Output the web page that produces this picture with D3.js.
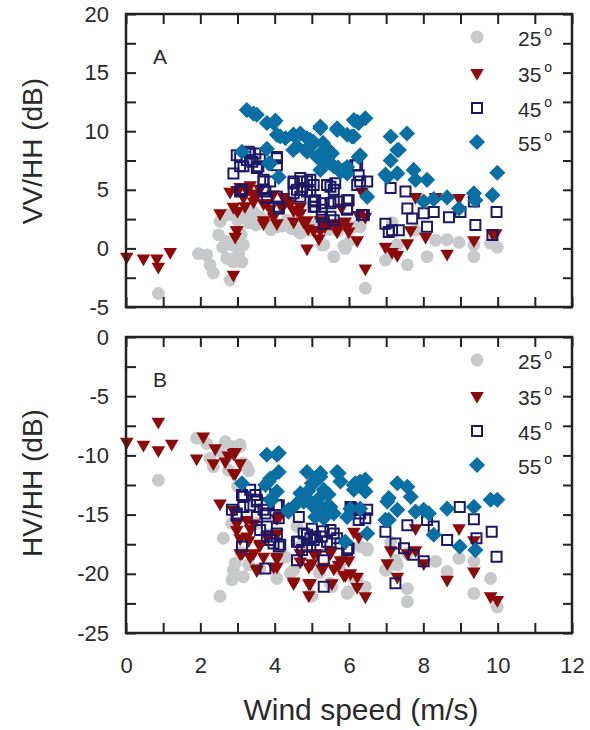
<!DOCTYPE html>
<html>
<head>
<meta charset="utf-8">
<script src="https://cdn.jsdelivr.net/npm/d3@7"></script>
<style>
  body { margin: 0; background: #fff; }
  text { font-family: "Liberation Sans", Arial, sans-serif; fill: #2a2a2a; }
</style>
</head>
<body>
<div id="chart"></div>
<script>
// angles in the legend
const angles = ['25', '35', '45', '55'];
const xTicks = [0, 2, 4, 6, 8, 10, 12];

// panel A: VV/HH (dB) vs wind speed (m/s)
const vvhh25 = [[0.87,-3.85],[1.95,-0.45],[2.17,-0.55],[2.26,-1.4],[2.35,-2.1],[2.49,1.15],[2.53,2.3],[2.71,0.6],
  [2.71,-0.85],[2.8,-2.7],[2.89,-1.15],[3.03,-0.45],[3.12,-1.15],[3.16,0.3],[2.71,2.85],[2.94,2.85],[3.25,3.0],
  [3.43,3.1],[3.61,2.7],[3.79,2.3],[4.06,1.85],[4.33,2.4],[4.6,1.55],[4.96,1.55],[5.32,0.3],[5.59,-0.7],[5.9,0.0],
  [6.04,0.7],[6.3,2.3],[6.44,-3.4],[6.98,-1.0],[7.16,-0.15],[4.69,1.3],[5.27,0.3],[5.86,0.2],[6.3,1.85],[7.3,0.3],
  [7.57,-1.4],[7.79,1.55],[8.1,-0.7],[8.33,0.7],[8.64,0.75],[8.96,0.5],[9.36,-0.7],[9.36,0.3],[9.81,0.45],
  [9.99,0.1],[7.16,2.2],[3.0,2.4],[3.3,2.2],[3.9,1.6],[4.2,1.9],[4.45,1.7],[5.1,1.9],[5.45,1.6],[5.7,1.5],
  [6.1,1.8],[2.6,0.1],[3.1,1.2],[3.5,2.0],[4.8,2.1],[5.2,2.4],[5.6,2.0],[2.85,0.3],[3.0,-0.6]];
const vvhh35 = [[0.02,-0.7],[0.47,-0.85],[0.83,-0.85],[0.87,-1.55],[1.19,-0.3],[2.53,3.0],[2.8,4.85],[2.89,3.55],
  [3.07,5.25],[3.16,4.4],[2.98,1.55],[2.94,1.0],[2.89,-2.25],[3.34,5.4],[3.52,4.7],[3.43,4.0],[3.7,3.85],[3.88,3.4],
  [3.7,2.4],[4.06,2.15],[4.33,4.1],[4.51,3.25],[4.69,3.0],[4.51,2.3],[4.78,2.3],[5.05,1.55],[5.19,0.85],[4.87,0.0],
  [5.5,2.15],[5.68,1.45],[5.9,2.3],[5.99,1.45],[6.22,0.7],[6.26,2.85],[6.44,-1.7],[6.98,0.15],[7.16,-0.3],
  [7.3,-0.55],[5.23,2.4],[5.68,1.85],[6.44,2.7],[6.35,4.85],[7.57,0.45],[7.66,1.55],[7.79,4.4],[8.06,1.0],
  [8.33,4.4],[8.64,-0.45],[8.96,4.3],[9.36,0.7],[9.86,1.3],[4.69,3.55],[3.2,3.6],[3.6,5.1],[3.95,4.6],[4.2,3.5],
  [4.9,1.7],[5.35,1.9],[5.8,3.5],[9.95,1.3],[2.98,5.0],[3.43,4.55],[3.79,3.85],[4.24,4.4],[4.42,3.85],[4.6,3.3],
  [3.97,2.7],[3.7,2.15],[4.87,2.4],[5.77,2.15],[2.98,1.55],[5.23,1.55],[5.95,1.85],[3.25,5.0],[3.0,3.2]];
const vvhh45 = [[3.07,7.8],[3.3,8.25],[3.48,8.1],[3.25,7.55],[3.07,7.0],[2.89,6.4],[3.56,7.0],[4.06,7.7],[4.06,7.1],
  [3.7,5.85],[3.88,5.7],[3.75,4.85],[3.79,4.3],[4.06,4.4],[4.11,3.55],[3.12,5.0],[4.51,5.55],[4.69,6.0],[4.87,5.7],
  [5.05,5.4],[4.74,5.0],[4.96,4.85],[4.51,4.7],[4.69,4.4],[5.09,4.1],[5.05,3.55],[5.27,3.85],[5.5,3.85],[5.72,4.0],
  [5.95,4.1],[5.95,3.4],[5.41,5.4],[5.27,2.7],[5.32,2.1],[5.59,2.4],[6.22,7.1],[6.3,5.7],[6.49,5.7],[6.22,5.4],
  [6.4,2.85],[6.98,2.1],[7.16,1.55],[7.12,5.15],[6.17,7.1],[6.26,6.25],[5.63,5.55],[5.5,5.25],[5.59,4.0],
  [7.52,4.85],[7.57,3.4],[7.7,2.55],[8.01,3.0],[8.28,3.1],[8.1,1.85],[8.69,2.65],[9.0,3.1],[9.36,4.0],[9.4,2.0],
  [9.97,3.1],[9.86,1.15],[7.07,1.4],[7.34,1.55],[6.35,2.85],[2.98,7.95],[3.34,8.1],[3.16,7.0],[3.52,6.85],
  [4.06,7.8],[3.7,5.7],[3.7,5.0],[4.11,3.4],[4.51,5.7],[4.74,5.7],[4.96,5.85],[4.6,5.0],[4.87,4.85],[5.05,4.0],
  [5.27,3.3],[5.5,2.7],[5.59,5.0],[5.99,4.1],[5.95,3.3],[5.09,3.55],[3.07,4.85],[3.4,7.4],[3.6,7.6]];
const vvhh55 = [[3.25,11.8],[3.52,11.4],[3.79,10.7],[4.02,10.9],[4.06,9.7],[4.29,9.4],[4.5,9.7],[4.69,9.8],
  [4.87,9.4],[5.04,9.1],[5.23,10.25],[5.68,10.25],[5.95,9.7],[6.22,10.8],[6.44,11.1],[4.5,8.4],[3.79,8.5],
  [3.12,8.25],[3.84,7.25],[4.11,6.1],[4.87,8.25],[5.23,8.1],[5.41,7.5],[5.5,8.25],[5.59,7.0],[5.77,6.55],
  [5.95,6.4],[6.13,9.55],[6.26,7.8],[6.49,4.4],[7.03,6.1],[7.12,9.55],[7.12,7.5],[7.3,8.4],[6.08,9.55],[6.26,10.7],
  [5.54,8.1],[6.3,7.95],[7.56,9.8],[7.34,8.4],[6.98,6.3],[7.3,6.4],[7.74,6.7],[7.79,5.85],[8.1,5.85],[8.01,4.0],
  [8.28,4.2],[8.64,4.35],[8.96,3.4],[9.36,4.7],[9.4,4.1],[9.86,4.55],[9.99,6.45],[5.23,6.7],[5.35,7.3],[5.7,6.9],
  [3.43,11.5],[3.97,10.7],[4.15,9.55],[4.51,9.7],[4.6,8.7],[4.96,9.25],[5.23,10.4],[5.68,10.1],[5.41,8.4],
  [5.14,7.8],[5.5,7.25],[5.86,6.7],[6.13,10.95],[5.95,6.95],[3.88,7.25],[4.83,8.4],[5.0,8.8],[5.3,9.0]];

// panel B: HV/HH (dB) vs wind speed (m/s)
const hvhh25 = [[0.87,-12.1],[1.9,-8.55],[2.17,-9.0],[2.26,-10.25],[2.35,-10.95],[2.67,-8.85],[2.85,-9.25],
  [3.07,-9.1],[3.16,-10.65],[2.76,-11.25],[2.62,-17.0],[2.85,-15.75],[2.94,-19.1],[2.85,-20.5],[3.16,-20.25],
  [2.53,-21.9],[3.3,-19.25],[3.52,-15.75],[3.84,-16.7],[4.06,-20.4],[4.51,-19.7],[4.69,-17.7],[4.96,-21.8],
  [5.5,-20.8],[5.95,-21.65],[6.49,-18.0],[6.44,-21.1],[7.03,-19.55],[7.25,-18.85],[4.6,-16.0],[5.0,-21.9],
  [5.54,-21.1],[5.99,-21.5],[6.49,-17.85],[6.98,-19.7],[7.3,-19.25],[7.57,-21.25],[7.57,-22.35],[7.57,-18.25],
  [8.33,-18.95],[8.64,-19.8],[8.96,-18.7],[9.36,-18.95],[9.36,-21.65],[9.81,-20.4],[9.99,-22.8],[7.12,-17.3],
  [6.3,-17.7],[3.0,-12.6],[3.3,-11.3],[3.1,-18.2],[3.6,-19.6],[4.3,-18.6],[5.2,-19.9],[5.8,-18.9],[6.1,-20.3],
  [3.07,-9.25],[3.25,-10.95],[2.89,-19.7],[4.42,-19.95],[5.77,-19.7],[6.22,-20.5],[2.5,-9.6],[2.7,-10.1]];
const hvhh35 = [[0.02,-8.85],[0.47,-9.1],[0.87,-7.15],[0.87,-9.55],[1.23,-9.0],[2.08,-8.4],[1.9,-10.25],[2.4,-9.4],
  [2.35,-10.65],[2.67,-10.5],[2.94,-9.7],[3.07,-10.65],[2.89,-11.5],[2.53,-14.05],[2.89,-14.6],[2.98,-15.75],
  [3.25,-15.45],[3.07,-17.0],[3.3,-17.15],[3.12,-18.25],[3.43,-18.25],[3.52,-19.55],[3.7,-18.55],[3.79,-16.85],
  [4.06,-15.3],[4.06,-16.6],[4.06,-18.7],[4.06,-19.4],[4.51,-20.65],[4.69,-18.25],[4.69,-18.95],[4.92,-19.4],
  [4.96,-20.8],[4.92,-21.8],[5.14,-18.25],[5.27,-19.55],[5.5,-18.25],[5.59,-19.55],[5.72,-19.25],[5.9,-20.1],
  [5.99,-18.85],[6.22,-20.25],[6.22,-21.1],[6.44,-21.9],[6.13,-16.45],[7.03,-19.1],[7.12,-18.0],[6.26,-16.85],
  [5.86,-20.1],[5.54,-20.8],[7.3,-20.25],[7.57,-18.25],[7.79,-16.15],[7.79,-18.0],[8.01,-19.1],[8.64,-20.5],
  [8.96,-16.15],[9.36,-17.15],[9.36,-19.8],[9.81,-21.9],[9.99,-22.2],[5.05,-18.25],[3.35,-16.2],[3.6,-17.6],
  [2.89,-9.8],[2.94,-11.5],[2.98,-16.3],[3.25,-16.85],[3.43,-15.75],[3.07,-18.25],[3.34,-18.55],[3.61,-17.45],
  [4.06,-18.55],[3.97,-19.4],[3.52,-19.7],[4.51,-20.8],[4.92,-20.8],[5.0,-19.1],[5.32,-19.4],[5.5,-18.0],
  [5.77,-18.85],[6.04,-19.95],[4.15,-15.05],[2.75,-10.0]];
const hvhh45 = [[3.12,-13.35],[2.85,-14.6],[2.98,-14.9],[3.16,-14.35],[3.34,-12.9],[3.48,-13.35],[3.52,-13.9],
  [3.52,-15.2],[3.75,-13.2],[3.75,-14.9],[3.79,-14.2],[4.11,-14.2],[3.79,-16.0],[3.79,-16.85],[4.06,-16.6],
  [4.11,-17.7],[3.97,-17.45],[3.12,-17.7],[3.75,-19.55],[4.65,-15.2],[4.65,-17.3],[4.78,-16.6],[4.96,-17.0],
  [4.87,-17.7],[5.09,-16.85],[5.23,-17.7],[5.41,-17.3],[5.59,-16.6],[5.77,-17.45],[5.99,-17.85],[4.6,-18.85],
  [5.32,-18.85],[5.32,-21.1],[6.08,-14.5],[6.26,-15.45],[6.49,-14.6],[6.44,-15.3],[6.98,-16.45],[7.25,-17.45],
  [7.25,-20.8],[6.3,-14.9],[7.57,-15.9],[7.48,-17.85],[7.74,-18.4],[8.01,-18.95],[8.1,-15.45],[8.28,-16.0],
  [8.64,-17.15],[8.98,-14.35],[9.36,-15.4],[9.43,-17.0],[9.84,-16.45],[9.97,-18.55],[5.0,-16.2],[5.3,-16.4],
  [3.16,-13.5],[2.98,-15.05],[3.34,-14.2],[3.52,-13.75],[3.7,-14.6],[4.06,-14.2],[4.11,-15.3],[3.61,-16.3],
  [3.88,-17.15],[4.15,-17.55],[4.6,-17.3],[4.87,-16.7],[5.05,-17.15],[5.27,-16.85],[5.5,-16.3],[5.68,-17.0],
  [4.74,-18.0],[5.95,-18.0],[6.04,-14.35]];
const hvhh55 = [[3.12,-12.35],[3.79,-9.95],[4.06,-9.95],[4.11,-11.4],[3.88,-11.95],[3.75,-12.5],[4.06,-13.05],
  [3.93,-13.75],[4.37,-14.6],[4.6,-14.05],[4.69,-13.2],[4.87,-11.4],[5.0,-12.35],[5.16,-11.8],[4.78,-13.9],
  [5.05,-14.35],[5.32,-12.9],[5.41,-14.35],[5.59,-14.9],[5.72,-11.5],[5.95,-15.2],[5.9,-17.3],[6.13,-12.5],
  [6.3,-12.2],[6.44,-12.05],[6.4,-12.9],[6.3,-14.5],[6.49,-16.6],[7.03,-13.9],[7.07,-15.45],[7.3,-12.35],
  [5.23,-11.8],[6.17,-12.35],[6.44,-13.05],[6.04,-14.5],[7.57,-12.65],[7.66,-13.5],[7.07,-13.6],[6.98,-15.45],
  [7.3,-14.6],[7.79,-14.75],[8.01,-14.6],[8.15,-14.9],[8.28,-16.7],[8.64,-14.5],[8.98,-17.7],[9.36,-14.35],
  [9.4,-18.0],[9.81,-13.75],[9.99,-13.75],[4.9,-13.0],[5.2,-13.6],[5.45,-13.3],[4.11,-9.8],[3.84,-12.2],
  [3.88,-13.75],[5.23,-11.5],[5.68,-11.4],[5.05,-12.35],[4.96,-13.9],[4.37,-14.75],[5.23,-14.35],[5.5,-14.35],
  [5.32,-15.3],[5.09,-15.2],[5.77,-12.2],[6.13,-12.9]];

const width = 590, height = 730;
const colors = ['#c8c9cb', '#8c0a0a', '#1d1866', '#0a6fa3'];

const svg = d3.select('#chart').append('svg')
  .attr('width', width)
  .attr('height', height);

const x = d3.scaleLinear().domain([0, 12]).range([126, 572]);

const symbols = [
  d3.symbol(d3.symbolCircle, 130),
  d3.symbol(d3.symbolTriangle, 80),
  d3.symbol(d3.symbolSquare, 100),
  d3.symbol(d3.symbolSquare, 130)
];
const rotations = [0, 180, 0, 45];

function drawMarks(g, data, i, y) {
  g.selectAll(null)
    .data(data)
    .enter().append('path')
    .attr('d', symbols[i])
    .attr('transform', (d) => `translate(${x(d[0])},${y(d[1])}) rotate(${rotations[i]})`)
    .attr('fill', i === 2 ? 'none' : colors[i])
    .attr('stroke', i === 2 ? colors[i] : 'none')
    .attr('stroke-width', 2);
}

function drawPanel(opts) {
  const y = d3.scaleLinear().domain(opts.domain).range([opts.bottom, opts.top]);
  const g = svg.append('g');
  const minorY = d3.range(opts.domain[0], opts.domain[1] + 0.1, 2.5);
  const minorX = d3.range(0, 13, 1);

  // marks, back to front
  opts.series.forEach((s, i) => drawMarks(g, s, i, y));

  const axL = g.append('g').attr('transform', 'translate(126,0)')
    .call(d3.axisLeft(y).tickValues(minorY).tickSizeInner(-10).tickSizeOuter(0).tickPadding(17)
      .tickFormat((d) => (d % 5 === 0 ? d : '')));
  const axR = g.append('g').attr('transform', 'translate(572,0)')
    .call(d3.axisRight(y).tickValues(minorY).tickSizeInner(-9).tickSizeOuter(0).tickFormat(''));
  const axT = g.append('g').attr('transform', `translate(0,${opts.top})`)
    .call(d3.axisTop(x).tickValues(minorX).tickSizeInner(-10).tickSizeOuter(0).tickFormat(''));
  const axB = g.append('g').attr('transform', `translate(0,${opts.bottom})`)
    .call(d3.axisBottom(x).tickValues(minorX).tickSizeInner(-10).tickSizeOuter(0).tickPadding(24)
      .tickFormat((d) => (opts.showX && xTicks.includes(d) ? d : '')));

  [axL, axR, axT, axB].forEach((ax) => {
    ax.select('.domain').remove();
    ax.selectAll('line').attr('stroke', '#222').attr('stroke-width', 2);
    ax.selectAll('text').style('font-size', '22px').attr('fill', '#2a2a2a');
  });

  g.append('rect')
    .attr('x', 126).attr('y', opts.top)
    .attr('width', 446).attr('height', opts.bottom - opts.top)
    .attr('fill', 'none').attr('stroke', '#222').attr('stroke-width', 2.5);

  g.append('text')
    .attr('x', 153).attr('y', opts.top + 50)
    .style('font-size', '21px')
    .text(opts.letter);

  g.append('text')
    .attr('transform', `translate(42,${opts.titleY}) rotate(-90)`)
    .attr('text-anchor', 'middle')
    .style('font-size', '28px')
    .text(opts.title);

  // legend
  const offsets = [23, 59, 94, 128];
  angles.forEach((a, i) => {
    const ly = opts.top + offsets[i];
    g.append('path')
      .attr('d', symbols[i])
      .attr('transform', `translate(477,${ly}) rotate(${rotations[i]})`)
      .attr('fill', i === 2 ? 'none' : colors[i])
      .attr('stroke', i === 2 ? colors[i] : 'none')
      .attr('stroke-width', 2);
    const t = g.append('text')
      .attr('x', 518).attr('y', ly + 9)
      .style('font-size', '21px')
      .text(a);
    t.append('tspan')
      .attr('dx', 3).attr('dy', -10)
      .style('font-size', '14px')
      .text('o');
  });
}

drawPanel({
  top: 14, bottom: 307, domain: [-5, 20], letter: 'A', title: 'VV/HH (dB)', titleY: 151,
  series: [vvhh25, vvhh35, vvhh45, vvhh55], showX: false
});
drawPanel({
  top: 337, bottom: 633, domain: [-25, 0], letter: 'B', title: 'HV/HH (dB)', titleY: 483,
  series: [hvhh25, hvhh35, hvhh45, hvhh55], showX: true
});

svg.append('text')
  .attr('x', 361).attr('y', 720)
  .attr('text-anchor', 'middle')
  .style('font-size', '30px')
  .text('Wind speed (m/s)');
</script>
</body>
</html>
